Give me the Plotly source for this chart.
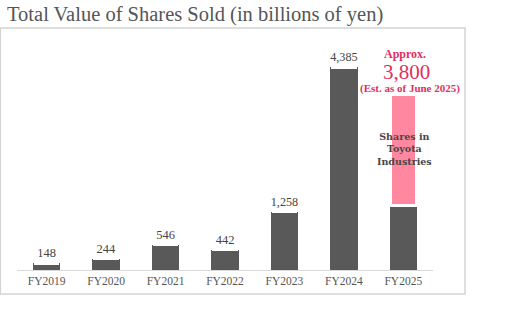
import plotly.graph_objects as go

categories = ["FY2019", "FY2020", "FY2021", "FY2022", "FY2023", "FY2024", "FY2025"]
base_values = [148, 244, 546, 442, 1258, 4385, 1400]
toyota_ind_values = [0, 0, 0, 0, 0, 0, 2400]
value_labels = ["148", "244", "546", "442", "1,258", "4,385", ""]
est_total = 3800
inner_lines = ["Shares in", "Toyota", "Industries"]

SERIF = "Liberation Serif"
DARK = "#595959"
PINK = "#ff88a0"
PINK_TEXT = "#e0305f"

fig = go.Figure()
fig.add_trace(go.Bar(
    x=categories, y=base_values, marker=dict(color=DARK, line=dict(width=0)),
    text=value_labels, textposition="outside", cliponaxis=False,
    textfont=dict(family=SERIF, size=12.5, color="#444444"),
    width=0.46, showlegend=False, hoverinfo="skip",
))
fig.add_trace(go.Bar(
    x=categories, y=toyota_ind_values, marker=dict(color=PINK, line=dict(color="white", width=3)),
    width=0.43, showlegend=False, hoverinfo="skip",
))

last = categories[-1]
fig.add_annotation(x=last, y=est_total, text="<b>Approx.</b>", showarrow=False,
                   yshift=40, xshift=2, font=dict(family=SERIF, size=12, color=PINK_TEXT))
fig.add_annotation(x=last, y=est_total, text="3,800", showarrow=False,
                   yshift=22, xshift=3, font=dict(family=SERIF, size=21, color=PINK_TEXT))
fig.add_annotation(x=last, y=est_total, text="<b>(Est. as of June 2025)</b>", showarrow=False,
                   yshift=6, xshift=7, font=dict(family=SERIF, size=11, color=PINK_TEXT))
mid = base_values[-1] + toyota_ind_values[-1] / 2
fig.add_annotation(x=last, y=mid, text="<br>".join(inner_lines), showarrow=False,
                   xshift=1, yshift=1,
                   font=dict(family="DejaVu Serif", size=9.5, color="#474747", weight="bold"))

# outer frame
fig.add_shape(type="rect", xref="paper", yref="paper",
              x0=-0.040, x1=1.077, y0=-0.104, y1=1.048,
              line=dict(color="#d4d4d4", width=1.5), fillcolor="rgba(0,0,0,0)", layer="below")

fig.update_layout(
    width=516, height=323,
    margin=dict(l=17, r=83, t=39, b=53),
    paper_bgcolor="white", plot_bgcolor="white",
    barmode="stack",
    title=dict(text="Total Value of Shares Sold (in billions of yen)",
               xref="container", yref="container", x=7 / 516, y=1 - 14 / 323,
               xanchor="left", yanchor="middle",
               font=dict(family=SERIF, size=20.5, color="#555555")),
    xaxis=dict(showline=True, linecolor="#d9d9d9", linewidth=1, ticks="",
               tickfont=dict(family=SERIF, size=11.5, color="#555555"),
               range=[-0.5, 6.5], fixedrange=True),
    yaxis=dict(visible=False, range=[0, 5000], showgrid=False, zeroline=False),
)

fig.write_html("out.html")
